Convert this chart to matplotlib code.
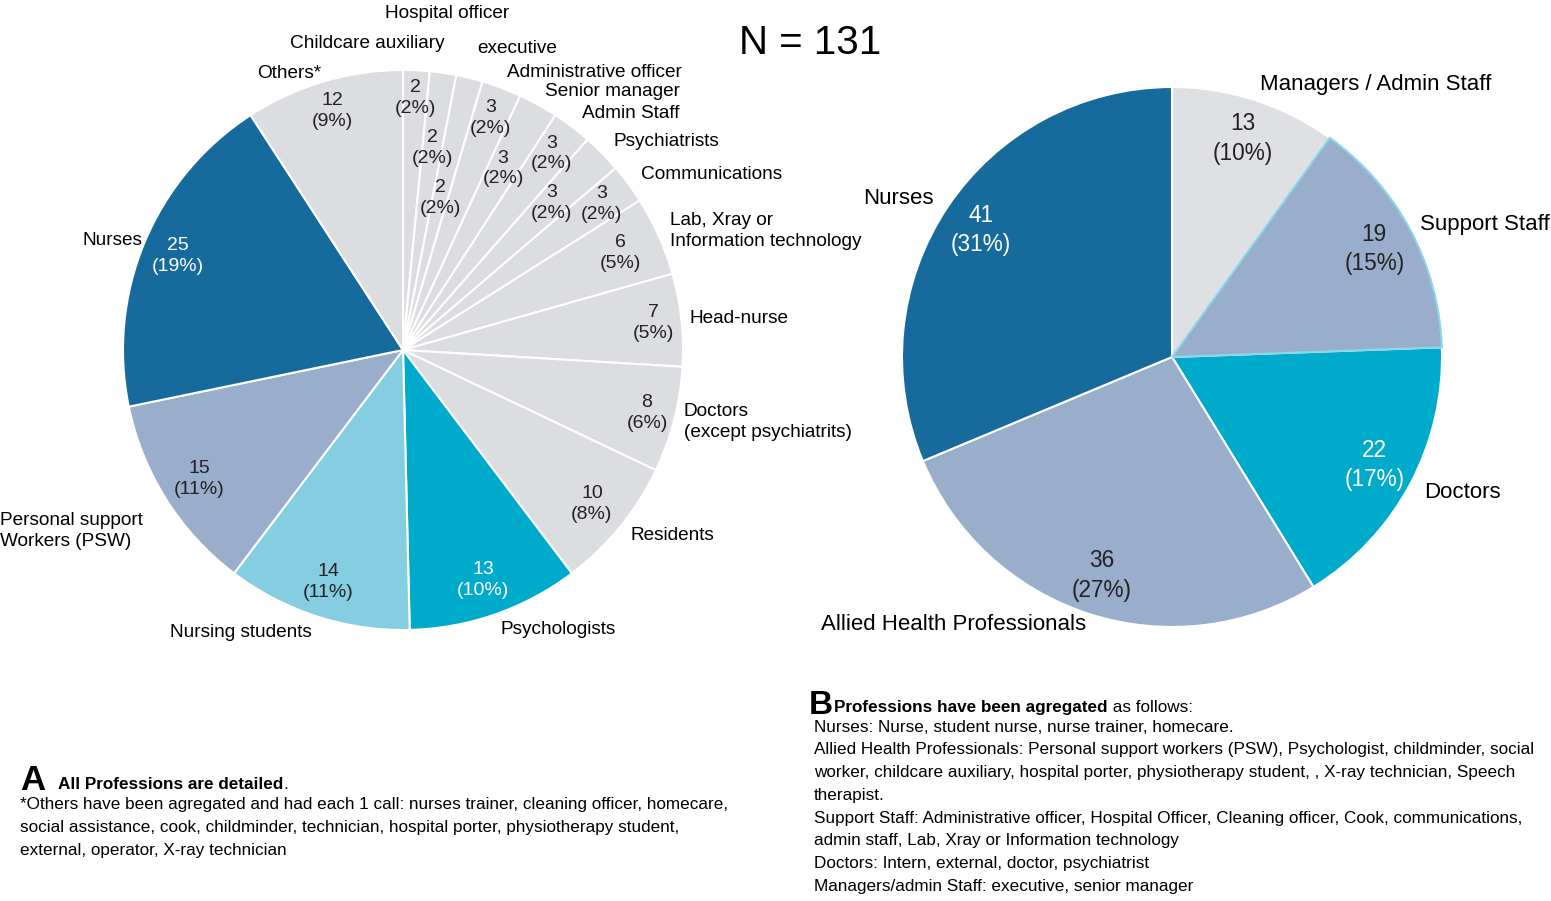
import matplotlib
matplotlib.use('Agg')
import matplotlib.pyplot as plt
from matplotlib.transforms import IdentityTransform
import numpy as np

# data - panel A (all professions, clockwise from 12 o'clock)
left_labels = ['Childcare auxiliary', 'Hospital officer', 'executive', 'Administrative officer',
               'Senior manager', 'Admin Staff', 'Psychiatrists', 'Communications',
               'Lab, Xray or\nInformation technology', 'Head-nurse', 'Doctors\n(except psychiatrits)',
               'Residents', 'Psychologists', 'Nursing students', 'Personal support\nWorkers (PSW)',
               'Nurses', 'Others*']
left_counts = [2, 2, 2, 3, 3, 3, 3, 3, 6, 7, 8, 10, 13, 14, 15, 25, 12]

# data - panel B (aggregated)
right_labels = ['Managers / Admin Staff', 'Support Staff', 'Doctors', 'Allied Health Professionals', 'Nurses']
right_counts = [13, 19, 22, 36, 41]

notes_a = ['*Others have been agregated and had each 1 call: nurses trainer, cleaning officer, homecare,',
           'social assistance, cook, childminder, technician, hospital porter, physiotherapy student,',
           'external, operator, X-ray technician']
notes_b = ['Nurses: Nurse, student nurse, nurse trainer, homecare.',
           'Allied Health Professionals: Personal support workers (PSW), Psychologist, childminder, social',
           'worker, childcare auxiliary, hospital porter, physiotherapy student, , X-ray technician, Speech',
           'therapist.',
           'Support Staff: Administrative officer, Hospital Officer, Cleaning officer, Cook, communications,',
           'admin staff, Lab, Xray or Information technology',
           'Doctors: Intern, external, doctor, psychiatrist',
           'Managers/admin Staff: executive, senior manager']

# colours
GRAY = '#dcdde1'
DARK = '#176b9c'
STEEL = '#98aecb'
LIGHT = '#85cee1'
TEAL = '#00aacb'
left_colors = [GRAY] * 12 + [TEAL, LIGHT, STEEL, DARK, GRAY]
right_colors = ['#dfe0e4', STEEL, TEAL, STEEL, DARK]
left_txt_col = ['#222222'] * 12 + ['white', '#222222', '#222222', 'white', '#222222']
right_txt_col = ['#222222', '#222222', 'white', '#222222', 'white']

# layout (radius fractions for labels / numbers)
left_lbl_r = [1.1, 1.2, 1.11, 1.057, 1.054, 1.057, 1.057, 1.054, 1.046, 1.03, 1.035, 1.05, 1.057, 1.06, 1.13, 1.01, 1.03]
left_num_r = [0.9, 0.73, 0.56, 0.885, 0.74, 0.88, 0.745, 0.88, 0.85, 0.9, 0.9, 0.87, 0.87, 0.87, 0.86, 0.87, 0.89]
right_lbl_r = [1.06, 1.04, 1.06, 1.04, 1.06]
label_override = {0: (445, 43, 'right'), 1: (447, 13, 'center'), 14: (143, 531, 'right')}  # pixel positions

plt.rcParams['font.family'] = ['Liberation Sans', 'DejaVu Sans']
FS_L, FS_LN, FS_R, FS_RN, FS_NOTE = 13.7, 14, 16, 16.3, 12.3

W, H = 1551, 901
fig = plt.figure(figsize=(W / 100, H / 100), dpi=100)
ax = fig.add_axes([0, 0, 1, 1])

lw, _ = ax.pie(left_counts, colors=left_colors, startangle=90, counterclock=False,
               center=(403, H - 350), radius=280,
               wedgeprops=dict(edgecolor='white', linewidth=1.5))
rw, _ = ax.pie(right_counts, colors=right_colors, startangle=90, counterclock=False,
               center=(1172, H - 357), radius=270,
               wedgeprops=dict(edgecolor='white', linewidth=1.5))
rw[1].set_edgecolor('#8dd5ea')
rw[1].set_zorder(3)
ax.set_xlim(0, W)
ax.set_ylim(0, H)
ax.set_aspect('equal')
ax.axis('off')


def pos(w, frac):
    a = np.deg2rad((w.theta1 + w.theta2) / 2)
    cx, cy = w.center
    return cx + frac * w.r * np.cos(a), cy + frac * w.r * np.sin(a), np.cos(a)


tot = sum(left_counts)
for i, w in enumerate(lw):
    c = left_counts[i]
    x, y, cs = pos(w, left_num_r[i])
    ax.text(x, y, f'{c}\n({100 * c / tot:.0f}%)', ha='center', va='center', fontsize=FS_LN,
            color=left_txt_col[i], linespacing=1.3, zorder=5)
    if i in label_override:
        px, py, ha = label_override[i]
        ax.text(px, H - py, left_labels[i], ha=ha, va='center', multialignment='left',
                fontsize=FS_L, linespacing=1.3, zorder=5)
    else:
        x, y, cs = pos(w, left_lbl_r[i])
        ax.text(x, y, left_labels[i], ha='left' if cs >= 0 else 'right', va='center',
                multialignment='left', fontsize=FS_L, linespacing=1.3, zorder=5)

tot = sum(right_counts)
for i, w in enumerate(rw):
    c = right_counts[i]
    x, y, cs = pos(w, 0.85)
    ax.text(x, y, f'{c}\n({100 * c / tot:.0f}%)', ha='center', va='center', fontsize=FS_RN,
            color=right_txt_col[i], linespacing=1.35, zorder=5)
    x, y, cs = pos(w, right_lbl_r[i])
    ax.text(x, y, right_labels[i], ha='left' if cs >= 0 else 'right', va='center',
            fontsize=FS_R, zorder=5)

ax.text(810, H - 43, 'N = 131', ha='center', va='center', fontsize=29)

# notes
renderer = fig.canvas.get_renderer()
tr = IdentityTransform()


def rich(x, y, parts, size):
    for txt, wt in parts:
        t = fig.text(x, H - y, txt, fontsize=size, weight=wt, va='baseline', transform=tr)
        x = t.get_window_extent(renderer).x1


fig.text(20, H - 790, 'A', fontsize=25, weight='bold', va='baseline', transform=tr)
rich(58, 789, [('All Professions are detailed', 'bold'), ('.', 'normal')], FS_NOTE)
for k, s in enumerate(notes_a):
    fig.text(20, H - (804 + 23.3 * k), s, fontsize=FS_NOTE, va='center', transform=tr)

fig.text(809, H - 714, 'B', fontsize=24, weight='bold', va='baseline', transform=tr)
rich(834, 712, [('Professions have been agregated', 'bold'), (' as follows:', 'normal')], FS_NOTE)
for k, s in enumerate(notes_b):
    fig.text(814, H - (727 + 22.8 * k), s, fontsize=FS_NOTE, va='center', transform=tr)

fig.savefig('out.png', dpi=100)
